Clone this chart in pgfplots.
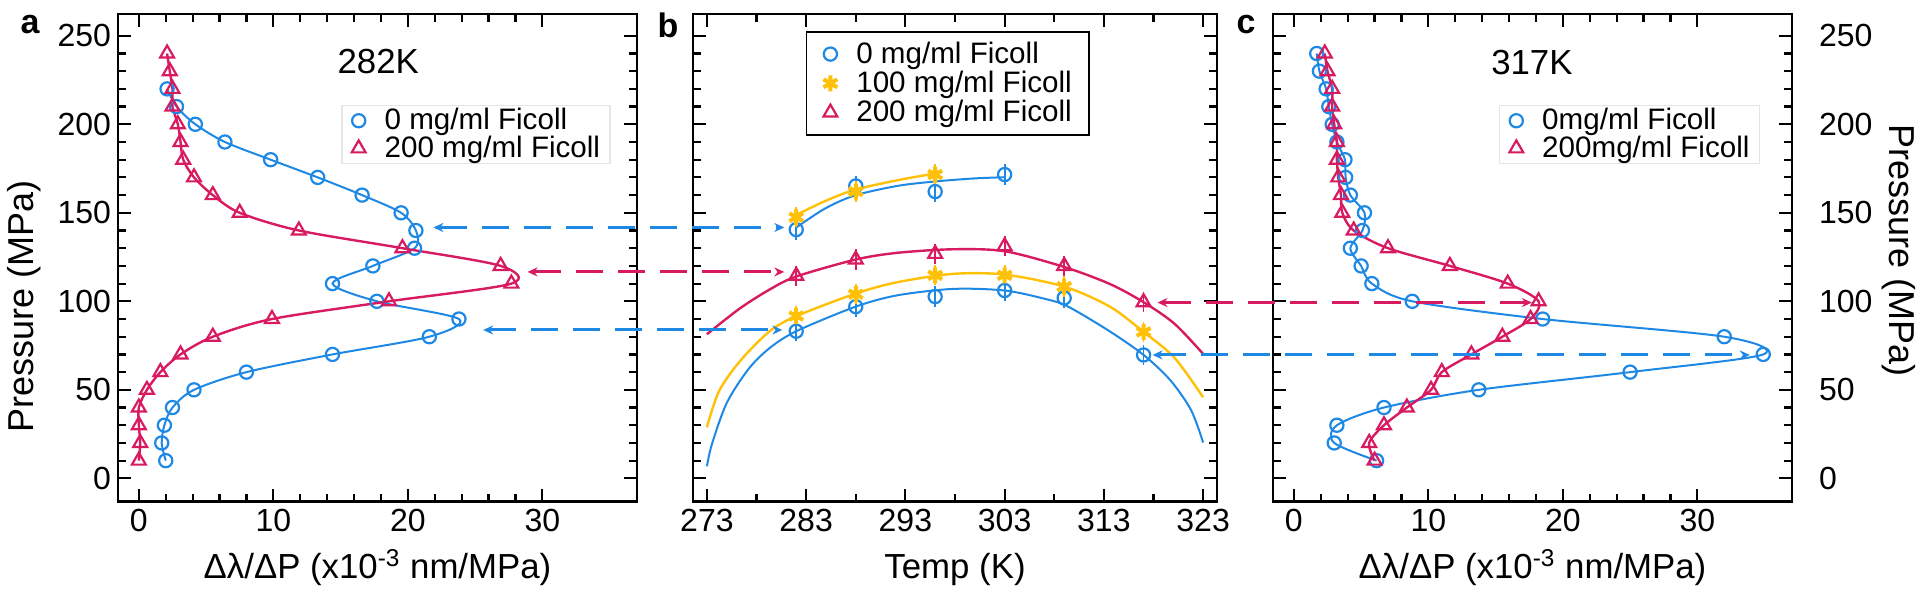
\documentclass[border=0pt]{standalone}
\usepackage{fontspec}
\setmainfont{Liberation Sans}
\usepackage{pgfplots}
\pgfplotsset{compat=1.18}
\usetikzlibrary{arrows.meta}
\definecolor{cblue}{HTML}{1E88E5}
\definecolor{cred}{HTML}{D81B60}
\definecolor{cyel}{HTML}{FFC107}
\pgfplotsset{
  panel/.style={
    scale only axis, anchor=south west, height=243.85pt,
    ymin=-13.2, ymax=262.3,
    ytick={0,50,...,250}, minor y tick num=4,
    tick align=inside, tick pos=both,
    major tick length=6.5pt, minor tick length=4pt,
    every tick/.style={black, line width=1.1pt},
    axis line style={line width=1.3pt},
    tick label style={font=\fontsize{16}{18}\selectfont},
    /pgf/number format/assume math mode=true,
    /pgf/number format/1000 sep={},
    label style={font=\fontsize{17.4}{19}\selectfont},
    ylabel style={font=\fontsize{18}{20}\selectfont},
    legend cell align=left,
  },
  lgd/.style={legend style={draw=#1, fill=white, line width=0.8pt,
      font=\fontsize{14.8}{16}\selectfont,
      nodes={inner sep=0pt, text depth=0.15em},
      cells={anchor=west}}},
  bmark/.style={only marks, mark=o, mark size=3.3pt, cblue, mark options={line width=1.1pt}},
  rmark/.style={only marks, mark=triangle, mark size=4pt, cred, mark options={line width=1.1pt}},
  ymark/.style={only marks, mark=asterisk, mark size=4pt, cyel, mark options={line width=2pt}},
}
\begin{document}
\begin{tikzpicture}
\useasboundingbox (0,0) rectangle (960pt,295.5pt);

% ---------------- panel a ----------------
\begin{axis}[panel, at={(59pt,44.65pt)}, width=259.5pt,
  xmin=-1.55, xmax=37.04, xtick={0,10,20,30}, minor x tick num=4,
  xlabel={Δλ/ΔP (x10\textsuperscript{-3} nm/MPa)},
  xlabel style={at={(axis description cs:0.5,-0.158)}, anchor=base},
  ylabel={Pressure (MPa)},
  ylabel style={at={(axis description cs:-0.18,0.40)}, anchor=center},
  lgd=black!10,
  legend style={at={(axis description cs:0.43,0.814)}, anchor=north west,
    inner xsep=4.9pt, inner ysep=1.5pt, row sep=1.6pt,
    /tikz/every odd column/.append style={column sep=9.5pt}},
]
\addplot[cblue, line width=1pt, smooth, forget plot] coordinates {
(2.0,10)(1.7,20)(1.9,30)(2.5,40)(4.1,50)(8.0,60)(14.4,70)(21.6,80)(23.8,90)(17.7,100)(14.4,110)(17.4,120)(20.5,130)(20.6,140)(19.5,150)(16.6,160)(13.3,170)(9.8,180)(6.4,190)(4.2,200)(2.8,210)(2.1,220)};
\addplot[cred, line width=1.2pt, smooth, forget plot] coordinates {
(0,10)(0.1,20)(0,30)(0,40)(0.6,50)(1.6,60)(3.1,70)(5.5,80)(9.9,90)(18.6,100)(27.7,110)(26.9,120)(19.6,130)(11.9,140)(7.5,150)(5.5,160)(4.1,170)(3.3,180)(3.1,190)(2.9,200)(2.5,210)(2.5,220)(2.3,230)(2.1,240)};
\addplot[bmark] coordinates {
(2.0,10)(1.7,20)(1.9,30)(2.5,40)(4.1,50)(8.0,60)(14.4,70)(21.6,80)(23.8,90)(17.7,100)(14.4,110)(17.4,120)(20.5,130)(20.6,140)(19.5,150)(16.6,160)(13.3,170)(9.8,180)(6.4,190)(4.2,200)(2.8,210)(2.1,220)};
\addplot[rmark] coordinates {
(0,10)(0.1,20)(0,30)(0,40)(0.6,50)(1.6,60)(3.1,70)(5.5,80)(9.9,90)(18.6,100)(27.7,110)(26.9,120)(19.6,130)(11.9,140)(7.5,150)(5.5,160)(4.1,170)(3.3,180)(3.1,190)(2.9,200)(2.5,210)(2.5,220)(2.3,230)(2.1,240)};
\legend{0 mg/ml Ficoll, 200 mg/ml Ficoll}
\node[font=\fontsize{17.4}{19}\selectfont] at (axis cs:17.8,235.5) {282K};
\coordinate (a1) at (axis cs:21.9,141.7);
\coordinate (a2) at (axis cs:28.9,116.6);
\coordinate (a3) at (axis cs:25.6,83.8);
\end{axis}

% ---------------- panel b ----------------
\begin{axis}[panel, at={(346.5pt,44.65pt)}, width=262pt,
  xmin=271.6, xmax=324.4, xtick={273,283,...,323}, minor x tick num=1,
  yticklabels={},
  xlabel={Temp (K)},
  xlabel style={at={(axis description cs:0.5,-0.158)}, anchor=base},
  lgd=black,
  legend style={at={(axis description cs:0.215,0.965)}, anchor=north west,
    inner xsep=8.5pt, inner ysep=5pt, row sep=2.4pt,
    /tikz/every odd column/.append style={column sep=9.5pt}},
]
\addplot[cblue, line width=1pt, smooth, forget plot] coordinates {
(273,6.8)(273.5,19.2)(275,42.6)(277.2,61.8)(279.3,73.5)(282,83.1)(288,97)(292.2,103.4)(297.8,107)(303,106.1)(307.2,101.2)(309.4,97)(313.6,83)(317,69.7)(319.7,55.4)(321.8,38.4)(323,20.2)};
\addplot[cblue, line width=1pt, smooth, forget plot] coordinates {
(282,141.7)(284.9,152.4)(287.9,159.8)(292.2,165.2)(296,167.7)(299.9,169.4)(303,170.1)};
\addplot[cyel, line width=1.2pt, smooth, forget plot] coordinates {
(273,28.8)(274.2,49)(276.3,66)(279.3,83)(282,91.6)(288,104.4)(292.2,110.8)(297.8,115.5)(303,115.1)(309,108.3)(313.6,97)(317,82.7)(320.1,68.2)(323,45.8)};
\addplot[cyel, line width=1.2pt, smooth, forget plot] coordinates {
(282,148.8)(284.9,156.6)(287.9,163)(292.2,168.4)(296,172.2)};
\addplot[cred, line width=1.2pt, smooth, forget plot] coordinates {
(273,81.4)(276.3,95.9)(279.3,106.6)(282,114)(288,123.6)(292.2,127.4)(297.8,129.4)(303,128.3)(309,119.4)(313.6,109.8)(317,99.5)(320.1,87.4)(323,70.3)};
\addplot[bmark, error bars/.cd, y dir=both, y explicit,
  error bar style={line width=0.9pt}, error mark options={line width=0.9pt, mark size=2pt}] coordinates {
(282,83.1)+-(0,3.5) (288,97)+-(0,3.5) (296,102.7)+-(0,3.5) (303,106.1)+-(0,3.5) (309,101.9)+-(0,3.5) (317,69.7)+-(0,3.5)
(282,140.5)+-(0,3.5) (288,165.2)+-(0,3.5) (296,162)+-(0,3.5) (303,171.6)+-(0,3.5)};
\addplot[ymark, error bars/.cd, y dir=both, y explicit,
  error bar style={line width=0.9pt}, error mark options={line width=0.9pt, mark size=2pt}] coordinates {
(282,91.7)+-(0,3.5) (288,104)+-(0,3.5) (296,114.7)+-(0,3.5) (303,114.7)+-(0,3.5) (309,108.3)+-(0,3.5) (317,82.7)+-(0,3.5)
(282,147.5)+-(0,3.5) (288,162)+-(0,3.5) (296,171.6)+-(0,3.5)};
\addplot[rmark, error bars/.cd, y dir=both, y explicit,
  error bar style={line width=0.9pt}, error mark options={line width=0.9pt, mark size=2pt}] coordinates {
(282,114.4)+-(0,3.5) (288,123.6)+-(0,3.5) (296,126.8)+-(0,3.5) (303,131.1)+-(0,3.5) (309,120)+-(0,3.5) (317,99.5)+-(0,3.5)};
\legend{0 mg/ml Ficoll, 100 mg/ml Ficoll, 200 mg/ml Ficoll}
\coordinate (b1) at (axis cs:280.8,141.7);
\coordinate (b2) at (axis cs:280.8,116.6);
\coordinate (b3) at (axis cs:280.6,83.8);
\coordinate (b4) at (axis cs:318.4,99.3);
\coordinate (b5) at (axis cs:317.9,69.7);
\end{axis}

% ---------------- panel c ----------------
\begin{axis}[panel, at={(636.5pt,44.65pt)}, width=259.5pt,
  xmin=-1.55, xmax=37.04, xtick={0,10,20,30}, minor x tick num=4,
  yticklabel pos=right, ytick pos=both,
  yticklabel style={xshift=10pt},
  xlabel={Δλ/ΔP (x10\textsuperscript{-3} nm/MPa)},
  xlabel style={at={(axis description cs:0.5,-0.158)}, anchor=base},
  ylabel={Pressure (MPa)},
  ylabel style={at={(axis description cs:1.205,0.515)}, anchor=center, rotate=180},
  lgd=black!10,
  legend style={at={(axis description cs:0.435,0.814)}, anchor=north west,
    inner xsep=4.9pt, inner ysep=1.5pt, row sep=1.6pt,
    /tikz/every odd column/.append style={column sep=9.5pt}},
]
\addplot[cblue, line width=1pt, smooth, forget plot] coordinates {
(6.15,10)(3.0,20)(3.2,30)(6.7,40)(13.75,50)(25.0,60)(34.9,70)(32.0,80)(18.5,90)(8.8,100)(5.8,110)(5.0,120)(4.2,130)(5.1,140)(5.25,150)(4.2,160)(3.85,170)(3.8,180)(3.2,190)(2.85,200)(2.6,210)(2.4,220)(1.9,230)(1.7,240)};
\addplot[cred, line width=1.2pt, smooth, forget plot] coordinates {
(6.0,10)(5.6,20)(6.7,30)(8.4,40)(10.2,50)(11.0,60)(13.2,70)(15.5,80)(17.6,90)(18.2,100)(15.9,110)(11.6,120)(7.0,130)(4.45,140)(3.6,150)(3.5,160)(3.3,170)(3.2,180)(3.2,190)(3.0,200)(2.85,210)(2.85,220)(2.5,230)(2.3,240)};
\addplot[bmark] coordinates {
(6.15,10)(3.0,20)(3.2,30)(6.7,40)(13.75,50)(25.0,60)(34.9,70)(32.0,80)(18.5,90)(8.8,100)(5.8,110)(5.0,120)(4.2,130)(5.1,140)(5.25,150)(4.2,160)(3.85,170)(3.8,180)(3.2,190)(2.85,200)(2.6,210)(2.4,220)(1.9,230)(1.7,240)};
\addplot[rmark] coordinates {
(6.0,10)(5.6,20)(6.7,30)(8.4,40)(10.2,50)(11.0,60)(13.2,70)(15.5,80)(17.6,90)(18.2,100)(15.9,110)(11.6,120)(7.0,130)(4.45,140)(3.6,150)(3.5,160)(3.3,170)(3.2,180)(3.2,190)(3.0,200)(2.85,210)(2.85,220)(2.5,230)(2.3,240)};
\legend{0mg/ml Ficoll, 200mg/ml Ficoll}
\node[font=\fontsize{17.4}{19}\selectfont] at (axis cs:17.7,235) {317K};
\coordinate (c1) at (axis cs:17.7,99.3);
\coordinate (c2) at (axis cs:33.9,69.7);
\end{axis}

% ---------------- connecting arrows ----------------
\tikzset{conn/.style={line width=1.5pt, dash pattern=on 13.5pt off 7.5pt,
  {Stealth[length=5pt,width=4.5pt]}-{Stealth[length=5pt,width=4.5pt]}}}
\draw[conn, cblue] (a1) -- (b1);
\draw[conn, cred] (a2) -- (b2);
\draw[conn, cblue] (a3) -- (b3);
\draw[conn, cred] (b4) -- (c1);
\draw[conn, cblue] (b5) -- (c2);

% ---------------- panel letters ----------------
\node[font=\fontsize{17}{19}\selectfont\bfseries] at (15pt,283pt) {a};
\node[font=\fontsize{17}{19}\selectfont\bfseries] at (334pt,283pt) {b};
\node[font=\fontsize{17}{19}\selectfont\bfseries] at (623pt,283pt) {c};
\end{tikzpicture}
\end{document}
